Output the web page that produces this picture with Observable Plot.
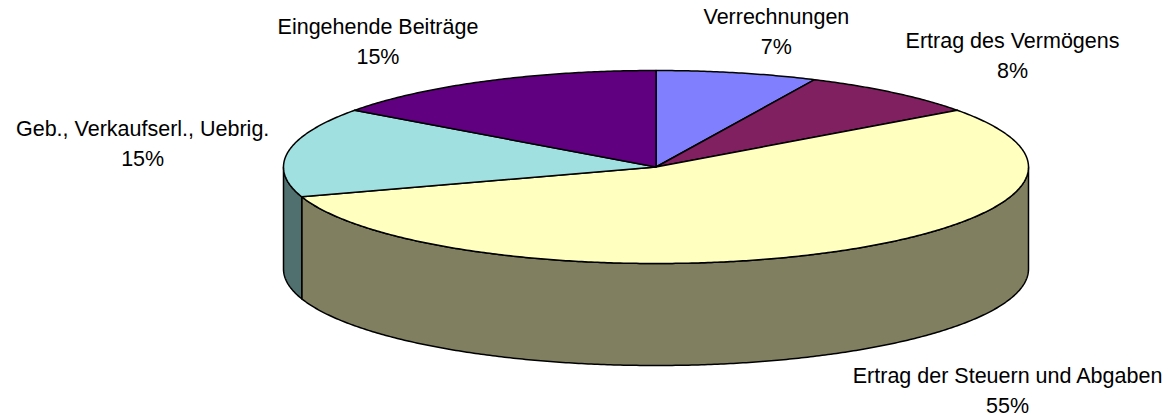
<!DOCTYPE html>
<html><head><meta charset="utf-8">
<script src="https://cdn.jsdelivr.net/npm/d3@7"></script>
<script src="https://cdn.jsdelivr.net/npm/@observablehq/plot@0.6"></script>
<style>body{margin:0;background:#fff} svg{display:block}</style>
</head><body><div id="chart"></div>
<script>
// ---- data ----
const categories = ["Verrechnungen", "Ertrag des Vermögens", "Ertrag der Steuern und Abgaben", "Geb., Verkaufserl., Uebrig.", "Eingehende Beiträge"];
const values = [7, 8, 55, 15, 15];

// ---- styles ----
const topColors = ["#8080FF", "#802060", "#FFFFC0", "#A0E0E0", "#600080"];
const sideColors = ["#404080", "#401030", "#808060", "#507070", "#300040"];

// ---- layout ----
const W = 1171, H = 418;
const cx = 655.5, cy = 166.5, rx = 372.5, ry = 96.5, depth = 102;
const fontSize = 21.5, fontFamily = "'Liberation Sans', Arial, sans-serif", lineHeight = 1.372;
const gapUpper = {x: 19, y: 21}, gapLower = {x: 60, y: 12}, capBlock = 45.5, spread = 2.2;

const total = d3.sum(values);
let acc = 0;
const slices = values.map((v, i) => {
  const a0 = acc / total * 2 * Math.PI; acc += v;
  const a1 = acc / total * 2 * Math.PI;
  return {i, a0, a1, mid: (a0 + a1) / 2};
});
const pt = (a, dy = 0) => ({x: cx + rx * Math.sin(a), y: cy - ry * Math.cos(a) + dy});
function arc(a0, a1, dy = 0) {
  const n = Math.max(2, Math.ceil((a1 - a0) / (Math.PI / 360)));
  return d3.range(n + 1).map(k => pt(a0 + (a1 - a0) * k / n, dy));
}
const sidePolys = [];
slices.forEach(s => {
  const lo = Math.max(s.a0, Math.PI / 2), hi = Math.min(s.a1, 3 * Math.PI / 2);
  if (hi > lo) sidePolys.push({i: s.i, points: [...arc(lo, hi), ...arc(lo, hi, depth).reverse()]});
});
const topPolys = slices.map(s => ({i: s.i, points: [{x: cx, y: cy}, ...arc(s.a0, s.a1)]}));

// label placement from the mid angle
const ctx = document.createElement("canvas").getContext("2d");
ctx.font = `${fontSize}px ${fontFamily}`;
const clamp = v => Math.max(-1, Math.min(1, v));
const labels = slices.map(s => {
  const sn = Math.sin(s.mid), cs = Math.cos(s.mid);
  const lower = cs < 0;
  const g = lower ? gapLower : gapUpper;
  const e = pt(s.mid, lower ? depth : 0);
  const w = ctx.measureText(categories[s.i]).width;
  return {
    text: categories[s.i] + "\n" + values[s.i] + "%",
    x: e.x + g.x * sn + (w / 2) * clamp(spread * sn),
    y: e.y - g.y * cs - (capBlock / 2) * clamp(2 * cs)
  };
});

const polyMark = (p, colors) => Plot.line(p.points, {x: "x", y: "y", fill: colors[p.i], stroke: "black", strokeWidth: 1.5, curve: "linear-closed"});

const chart = Plot.plot({
  width: W, height: H, margin: 0,
  x: {domain: [0, W], axis: null},
  y: {domain: [H, 0], axis: null},
  style: {background: "white", fontFamily},
  marks: [
    ...sidePolys.map(p => polyMark(p, sideColors)),
    ...topPolys.map(p => polyMark(p, topColors)),
    Plot.text(labels, {x: "x", y: "y", text: "text", fontSize, fontFamily, lineAnchor: "middle", lineHeight, textAnchor: "middle", fill: "black"})
  ]
});
document.getElementById("chart").appendChild(chart);
</script></body></html>
